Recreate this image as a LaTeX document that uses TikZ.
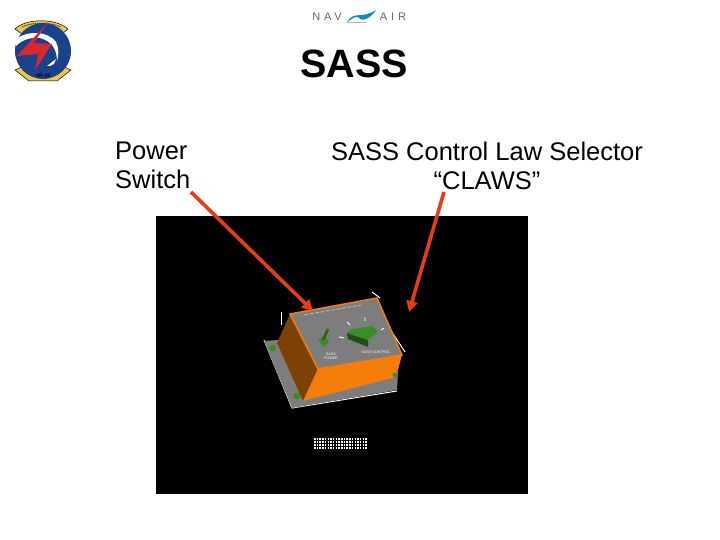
\documentclass[tikz,border=0pt]{standalone}
\usepackage{fontspec}
\setmainfont{Liberation Sans}
\usetikzlibrary{arrows.meta,positioning}
\definecolor{boxorange}{RGB}{245,125,10}
\definecolor{boxbrown}{RGB}{125,65,5}
\definecolor{plategray}{RGB}{125,125,125}
\definecolor{knobgreen}{RGB}{60,140,40}
\definecolor{logoblue}{RGB}{25,65,140}
\definecolor{logored}{RGB}{215,40,45}
\definecolor{logoyellow}{RGB}{235,200,70}
\definecolor{arrowred}{RGB}{232,60,20}
\tikzset{
    heading/.style={font=\fontsize{39.5}{44}\selectfont\bfseries, inner sep=0pt},
    label/.style={font=\fontsize{25.5}{29}\selectfont, inner sep=0pt, align=center},
    flow/.style={-{Triangle[length=11pt,width=11pt]}, line width=3.6pt, draw=arrowred},
    tiny/.style={font=\fontsize{3.6}{4}\selectfont, text=white, inner sep=0pt, align=center},
    navtext/.style={font=\fontsize{11}{12}\selectfont\addfontfeature{LetterSpace=35}, text=black!60, inner sep=0pt},
    speckle/.style={draw=white, line width=1.3pt, dash pattern=on 1.5pt off 1.2pt},
    fringe/.style={draw=white, line width=1pt}
}
\begin{document}
\begin{tikzpicture}[x=1pt,y=-1pt]
\useasboundingbox (0,0) rectangle (720,540);

\node[heading] (title) at (354,64) {SASS};
\node[label, align=left, anchor=north west] (power) at (115,141.5) {Power\\Switch};
\node[label, anchor=north] (claws) at (487,141.5) {SASS Control Law Selector\\“CLAWS”};

% photo
\node[fill=black, minimum width=372pt, minimum height=278pt, inner sep=0pt, anchor=north west] (photo) at (156,216) {};

% box
\draw[fringe] (264,340) -- (292,408) -- (397,391);
\draw[fringe] (281,312) -- (281,325);
\draw[fringe] (372,292) -- (380,298);
\draw[fringe] (388,326) -- (405,352);
\fill[plategray] (264,341) -- (278,340) -- (398,372) -- (397,390) -- (292,408) -- cycle;
\fill[boxbrown] (290,314) -- (318,369) -- (303,401) -- (277,343) -- cycle;
\fill[boxorange] (318,369) -- (402,355) -- (396,377) -- (303,401) -- cycle;
\fill[plategray, draw=boxorange, line width=1.5pt] (290,314) -- (377,298) -- (402,355) -- (318,369) -- cycle;
\draw[lightgray, line width=0.8pt, dash pattern=on 4pt off 1.5pt] (304,315) -- (361,305);
% toggle and knob
\fill[knobgreen] (318,340) -- (325,335) -- (329,342) -- (324,347) -- cycle;
\draw[knobgreen!70!black, line width=2.6pt] (323,340) -- (328,329);
\fill[knobgreen!55!black] (347,333) -- (368,340) -- (368,347) -- (348,339) -- cycle;
\fill[knobgreen] (352,329) -- (373,326) -- (378,332) -- (368,340) -- (347,333) -- cycle;
\draw[white, line width=0.9pt] (347,322) -- (350,325) (365,317) -- (365,321) (381,330) -- (384,328) (339,337) -- (344,338);
% screws
\fill[knobgreen] (273,348) circle (3.5pt) (297,396) circle (3.5pt);
\fill[knobgreen] (395,375) circle (2.5pt);
\node[tiny] (sasspower) at (331,356) {SASS\\POWER};
\node[tiny] (sasscontrol) at (376,352) {SASS CONTROL};

% speckled caption under the box
\foreach \yrow in {439,442,445,448}
    \draw[speckle] (314,\yrow) -- (367,\yrow);

% squadron badge
\fill[logoyellow, draw=black, line width=0.5pt] (15,29) .. controls (26,18) and (56,18) .. (68,29) -- (62,34) -- (22,34) -- cycle;
\fill[logoyellow, draw=black, line width=0.5pt] (15,70) -- (24,66) -- (62,66) -- (71,70) -- (57,81) -- (29,81) -- cycle;
\draw[black!70, line width=1pt, dash pattern=on 1.5pt off 0.7pt] (22,27) .. controls (32,22) and (50,22) .. (61,27);
\node[circle, fill=logoblue, minimum size=56pt, inner sep=0pt] (badge) at (43,51) {};
\fill[white] (16,39) .. controls (28,30) and (48,31) .. (56,42) .. controls (59,48) and (59,55) .. (57,61) .. controls (57,50) and (52,41) .. (40,38) .. controls (30,37) and (22,40) .. (16,46) -- cycle;
\fill[logored] (48,22) -- (34,43) -- (52,44) -- (35,70) -- (38,54) -- (17,56) -- cycle;
\fill[white] (47,66) -- (56,59) -- (54,64) -- (50,66) -- cycle;
\node[font=\fontsize{5}{6}\selectfont\bfseries, inner sep=0pt] (vrlabel) at (43,76) {VR-23};

% logo at the top
\node[navtext] (nav) at (327,17) {NAV};
\node[navtext] (air) at (393,17) {AIR};
\fill[logoblue!60!cyan] (347,22) .. controls (355,10) and (360,20) .. (376,10) .. controls (370,20) and (360,22) .. (358,17) .. controls (354,16) and (351,20) .. (347,22) -- cycle;
\draw[gray!60, line width=0.4pt] (347,22) -- (366,22);

\coordinate (powertip) at (313,311);
\coordinate (clawstip) at (409,312);
\draw[flow] (191,192) -- (powertip);
\draw[flow] (444,192) -- (clawstip);
\end{tikzpicture}
\end{document}
